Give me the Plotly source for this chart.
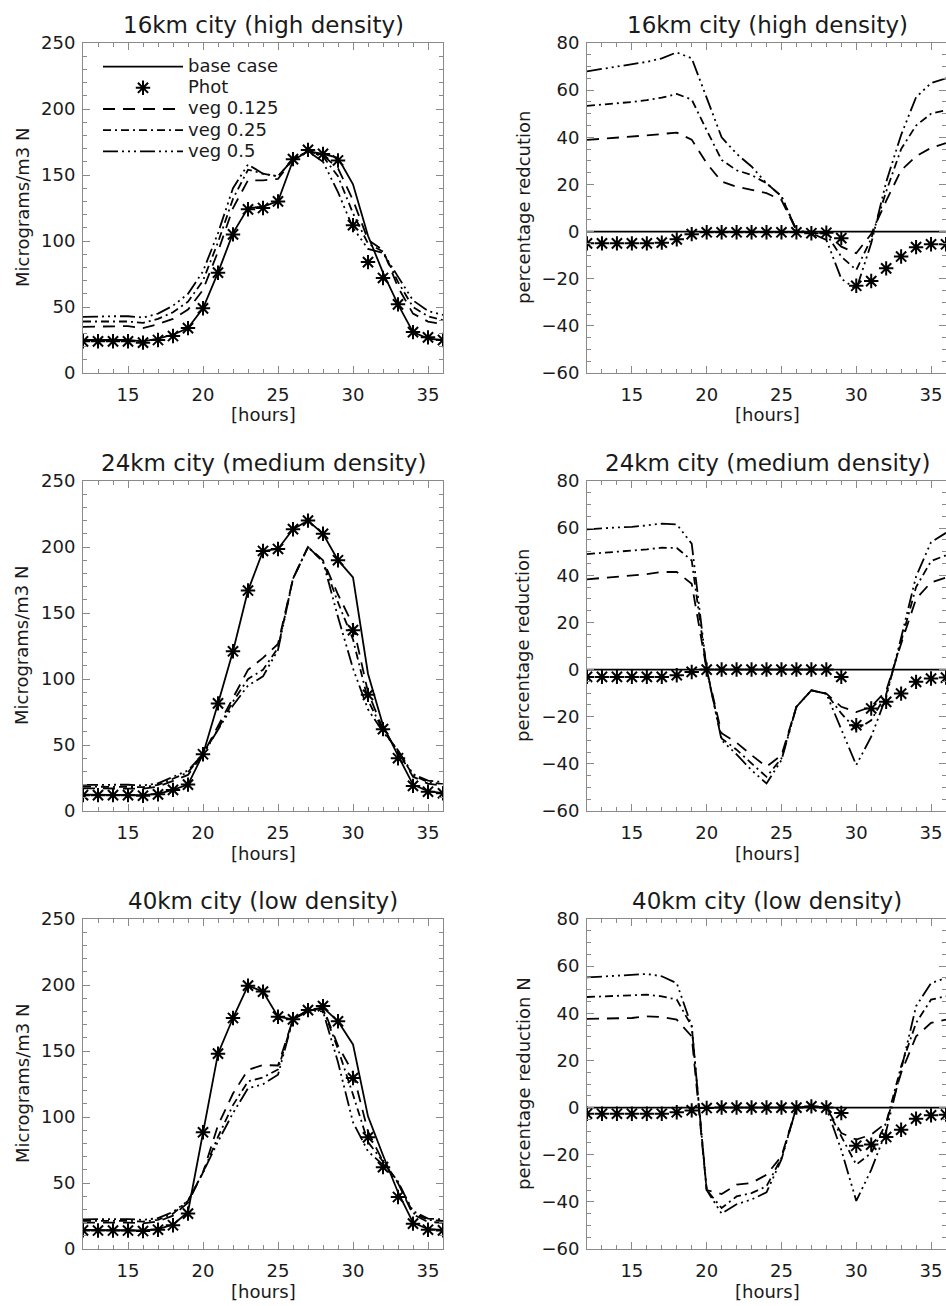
import plotly.graph_objects as go

# ---------------- data ----------------
hours = list(range(12, 37))

# 16km city (high density) - concentrations
base_16 = [25, 25, 25, 25, 24, 26, 29, 34, 49, 76, 106, 125, 126, 130, 161, 168, 166, 163, 143, 104, 76, 52, 31, 26, 25]
phot_16 = [24, 24, 24, 24, 23, 25, 28, 34, 49, 76, 105, 124, 125, 130, 162, 169, 166, 161, 112, 84, 72, 52, 31, 27, 25]
veg0125_16 = [35, 35, 35, 35.5, 34, 37, 41, 48, 63, 92, 125, 146, 146, 147, 162, 168, 165, 155, 131, 101, 93, 65, 45, 39, 37]
veg025_16 = [39, 39, 39, 39, 38, 41, 46, 54, 70, 99, 132, 154, 151, 149, 162, 168, 164, 149, 121, 98, 92, 69, 50, 43, 40]
veg05_16 = [42.5, 43, 43, 43, 42, 45, 51, 60, 77, 106, 140, 158, 151, 149, 162, 168, 160, 137, 110, 94, 91, 73, 55, 47, 44]
# 16km - percentage reduction
red_base_16 = [0] * 25
red_phot_16 = [-5, -5, -5, -5, -5, -4.7, -3.3, -1.1, -0.3, -0.3, -0.3, -0.3, -0.3, -0.3, -0.3, -0.7, -0.5, -2.8, -23, -21, -15.6, -10.6, -6.6, -5.4, -5.4]
red_0125_16 = [38.9, 39.3, 39.8, 40.3, 40.8, 41.4, 42, 39, 29, 21.2, 19, 17.7, 16.3, 13.4, 0.5, -0.7, -0.7, -6.4, -9.2, -1, 13, 26, 32, 35.5, 37.5]
red_025_16 = [53.3, 53.8, 54.4, 55, 55.8, 56.8, 58.4, 56, 43, 30.4, 26, 24, 20.5, 15, 0.5, -0.5, -1, -10.6, -16.3, -3, 17, 35, 45, 50, 51.5]
red_05_16 = [68, 69, 70, 70.7, 72, 73.5, 76, 73.5, 57, 40, 33, 27.6, 20.5, 15, 0.5, -0.7, -3.5, -20, -24.5, -5, 21, 41, 57, 63, 65]

# 24km city (medium density)
base_24 = [12.4, 12.4, 12.4, 12.4, 12, 13, 16, 20, 43, 81.5, 121, 167, 197, 198.5, 213.5, 220, 210, 190, 177, 104, 65, 42, 20, 15, 13.5]
phot_24 = [12, 12, 12, 12, 11.6, 12.6, 16, 20, 43, 81.5, 121, 167, 197, 198.5, 213.5, 220, 210, 190, 137, 88, 62, 40, 19, 14.6, 13.4]
veg0125_24 = [17.2, 17.2, 17.3, 17.4, 16.9, 18.4, 22.6, 27.3, 43, 64, 86, 107, 116, 126.5, 176, 200, 190, 164, 141, 90, 62, 45, 26, 20.7, 19.2]
veg025_24 = [18.5, 18.5, 18.6, 18.6, 18.1, 19.7, 24.3, 29.3, 43, 62, 83, 100, 107, 123.5, 176, 200, 189, 158, 130, 84, 61, 45.5, 27, 21.9, 20.4]
veg05_24 = [19.8, 19.8, 19.9, 19.9, 19.3, 21, 25.9, 30.7, 43, 61, 80, 95, 102, 122, 176, 200, 189, 147, 108, 77, 60, 46, 28, 23, 21.9]
red_base_24 = [0] * 25
red_phot_24 = [-3.1, -3.1, -3.1, -3.1, -3.1, -3.1, -2.4, -1, 0, 0, 0, 0, 0, 0, 0, 0, 0, -3.1, -23.6, -16.5, -13.7, -10.2, -5.2, -3.8, -3.4]
red_0125_24 = [38.3, 38.8, 39.3, 40, 40.5, 41.4, 41.4, 36.4, 0, -27, -31, -36.3, -41.2, -36.3, -15.8, -8.8, -10.2, -15.8, -18, -15.8, -9, 11, 30, 37, 39]
red_025_24 = [49, 49.5, 50, 50.3, 51, 51.7, 51.6, 46.3, 0, -29.2, -34, -39.8, -45.5, -37.7, -15.8, -8.8, -10.2, -18.6, -25.5, -21.5, -10.5, 12, 35, 46, 48.5]
red_05_24 = [59.5, 60, 60.3, 60.5, 61.2, 61.9, 61.6, 53.4, 0, -30, -36, -42.7, -48.3, -38.4, -15.8, -8.8, -10.2, -25.7, -40.5, -28.5, -11.6, 13.5, 39.5, 54, 58]

# 40km city (low density)
base_40 = [14.5, 14.5, 14.5, 14.5, 14, 15, 18.4, 28, 88.4, 148, 175, 199.5, 195, 176, 174, 180, 183, 172.5, 155, 100.5, 71, 43, 20, 15, 14.5]
phot_40 = [14.1, 14, 14, 14, 13.6, 14.6, 18, 26.8, 88.4, 148, 175, 199.5, 195, 176, 174, 181, 184, 172.5, 129.5, 84.6, 62, 39.4, 19.2, 14.6, 14.1]
veg0125_40 = [20, 20, 20, 20, 19.4, 20.8, 25.3, 35, 58, 93.7, 117.8, 135.7, 139.4, 139, 174, 181, 183, 154, 133.5, 89, 66.3, 49.9, 26.2, 20.5, 19.9]
veg025_40 = [21.3, 21.3, 21.4, 21.4, 20.7, 22.1, 26.8, 36.5, 58, 85, 109, 127, 130, 136, 174, 181, 182, 151.5, 117, 81, 66.3, 51.1, 27.3, 22, 21.3]
veg05_40 = [22.5, 22.6, 22.7, 22.7, 22, 23.4, 28.1, 36.5, 58, 81.4, 103, 121.7, 124.8, 132, 174, 181, 180, 141.5, 96, 74, 63.8, 50.5, 28.7, 23, 22.5]
red_base_40 = [0] * 25
red_phot_40 = [-2.6, -2.6, -2.6, -2.6, -2.6, -2.6, -2, -1.2, -0.2, 0, 0, 0, 0, 0, 0, 0.5, 0, -2.3, -16.2, -15.7, -12.5, -9.4, -4.7, -3.3, -3]
red_0125_40 = [37.6, 37.7, 37.8, 38, 38.7, 38.4, 37.3, 30.2, -35, -36.7, -32.7, -32, -28.5, -20.7, 0, 0.5, 0, -10.8, -13.6, -11.5, -6.5, 14.7, 30.2, 35.9, 37.3]
red_025_40 = [46.9, 47.1, 47.3, 47.6, 47.9, 47.2, 45.8, 34.5, -35, -42.6, -37.7, -36.3, -33.4, -21.4, 0, 0.5, 0, -12.2, -24.2, -19.3, -6.5, 17.5, 35.9, 45.8, 47.2]
red_05_40 = [55.2, 55.6, 56, 56.4, 56.7, 55.7, 52.8, 34.5, -35, -45, -41, -39, -36, -22, 0, 0.5, 0, -18, -39.6, -26.4, -10, 16, 43, 52.8, 55]

series_names = ["base case", "Phot", "veg 0.125", "veg 0.25", "veg 0.5"]
panel_titles = ["16km city (high density)", "24km city (medium density)", "40km city (low density)"]
right_ytitles = ["percentage redcution", "percentage reduction", "percentage reduction N"]
left_ytitle = "Micrograms/m3 N"
xtitle = "[hours]"
x_ticks = [15, 20, 25, 30, 35]

conc = [
    [base_16, phot_16, veg0125_16, veg025_16, veg05_16],
    [base_24, phot_24, veg0125_24, veg025_24, veg05_24],
    [base_40, phot_40, veg0125_40, veg025_40, veg05_40],
]
reds = [
    [red_base_16, red_phot_16, red_0125_16, red_025_16, red_05_16],
    [red_base_24, red_phot_24, red_0125_24, red_025_24, red_05_24],
    [red_base_40, red_phot_40, red_0125_40, red_025_40, red_05_40],
]

# ---------------- layout ----------------
W, H = 946, 1306
FONT = "DejaVu Sans"
AX = "#8a8a8a"
TXT = "#1a1a1a"

def fx(px):
    return px / W

def fy(py):
    return 1 - py / H

row_px = [(43, 373), (481, 811), (919, 1249)]
left_px = (83, 443)
right_px = (587, 946)

dashes = [None, None, "12px,8px", "8px,4px,2px,4px", "15px,4px,2px,4px,2px,4px,2px,4px"]

fig = go.Figure()

def legend_label(name):
    return f'<span style="font-size:18px">{name}</span>'

def add_series(data, xa, ya, legend):
    for i, (name, vals) in enumerate(zip(series_names, data)):
        label = legend_label(name)
        if i == 1:
            fig.add_trace(go.Scatter(
                x=hours, y=vals, mode="markers", name=label, xaxis=xa, yaxis=ya,
                showlegend=legend,
                marker=dict(symbol="asterisk-open", size=12, color="black",
                            line=dict(width=2, color="black")),
            ))
        else:
            line = dict(color="black", width=1.8)
            if dashes[i]:
                line["dash"] = dashes[i]
            fig.add_trace(go.Scatter(
                x=hours, y=vals, mode="lines", name=label, xaxis=xa, yaxis=ya,
                showlegend=legend, line=line,
            ))

axis_common = dict(
    showgrid=False, zeroline=False, showline=True, linecolor=AX, linewidth=1,
    mirror="allticks", ticks="inside", tickcolor=AX, ticklen=7, tickwidth=1,
    automargin=False,
    tickfont=dict(family=FONT, size=18, color=TXT),
)

layout_axes = {}
annotations = []
for r in range(3):
    top, bot = row_px[r]
    ydom = [fy(bot), fy(top)]
    for c in range(2):
        k = r * 2 + c + 1
        xa = "x" if k == 1 else f"x{k}"
        ya = "y" if k == 1 else f"y{k}"
        xk = "xaxis" if k == 1 else f"xaxis{k}"
        yk = "yaxis" if k == 1 else f"yaxis{k}"
        xpx = left_px if c == 0 else right_px
        layout_axes[xk] = dict(
            axis_common, domain=[fx(xpx[0]), fx(xpx[1])], anchor=ya,
            range=[12, 36], tickvals=x_ticks, ticklabelstandoff=5,
            minor=dict(ticks="inside", dtick=1, tick0=12, ticklen=4, tickcolor=AX, tickwidth=1),
        )
        if c == 0:
            layout_axes[yk] = dict(
                axis_common, domain=ydom, anchor=xa, range=[0, 250], dtick=50, tick0=0,
                ticklabelstandoff=3,
                minor=dict(ticks="inside", dtick=10, tick0=0, ticklen=4, tickcolor=AX, tickwidth=1),
            )
            add_series(conc[r], xa, ya, legend=(r == 0))
        else:
            layout_axes[yk] = dict(
                axis_common, domain=ydom, anchor=xa, range=[-60, 80], dtick=20, tick0=0,
                ticklabelstandoff=3,
                minor=dict(ticks="inside", dtick=5, tick0=0, ticklen=4, tickcolor=AX, tickwidth=1),
            )
            add_series(reds[r], xa, ya, legend=False)
        xc = (xpx[0] + xpx[0] + 360) / 2
        annotations.append(dict(
            text=panel_titles[r], x=fx(xc), y=fy(top - 18), xref="paper", yref="paper",
            xanchor="center", yanchor="middle", showarrow=False,
            font=dict(family=FONT, size=23, color=TXT)))
        annotations.append(dict(
            text=xtitle, x=fx(xc), y=fy(bot + 42), xref="paper", yref="paper",
            xanchor="center", yanchor="middle", showarrow=False,
            font=dict(family=FONT, size=18, color=TXT)))
        ytx = 22 if c == 0 else 523
        annotations.append(dict(
            text=left_ytitle if c == 0 else right_ytitles[r], x=fx(ytx), y=fy((top + bot) / 2),
            xref="paper", yref="paper", xanchor="center", yanchor="middle", textangle=-90,
            showarrow=False, font=dict(family=FONT, size=18, color=TXT)))

fig.update_layout(
    template="none",
    width=W, height=H, margin=dict(l=0, r=0, t=0, b=0, pad=0, autoexpand=False),
    paper_bgcolor="white", plot_bgcolor="white",
    font=dict(family=FONT, size=18, color=TXT),
    annotations=annotations,
    showlegend=True,
    legend=dict(x=fx(98), y=fy(51), xanchor="left", yanchor="top",
                bgcolor="rgba(0,0,0,0)", borderwidth=0, itemwidth=80, tracegroupgap=0,
                font=dict(family=FONT, size=14, color=TXT), itemclick=False),
    **layout_axes,
)

fig.write_html(
    "out.html",
    config={"displayModeBar": False},
    post_script="document.body.style.margin='0px';document.body.style.overflow='hidden';",
)
